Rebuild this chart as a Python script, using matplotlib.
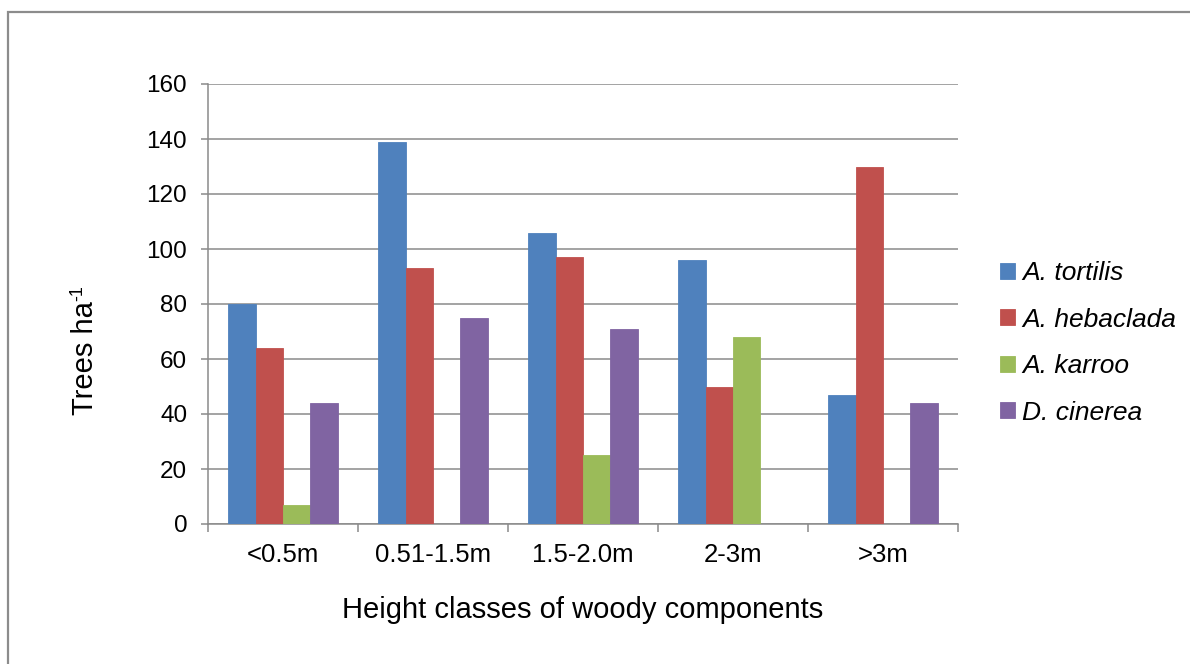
import matplotlib
matplotlib.use("Agg")
import matplotlib.pyplot as plt
import numpy as np
from matplotlib.patches import Rectangle
from matplotlib.ticker import FixedLocator

plt.rcParams["font.family"] = ["Liberation Sans", "DejaVu Sans"]

height_classes = ["<0.5m", "0.51-1.5m", "1.5-2.0m", "2-3m", ">3m"]
species = ["A. tortilis", "A. hebaclada", "A. karroo", "D. cinerea"]
a_tortilis = [80, 139, 106, 96, 47]
a_hebaclada = [64, 93, 97, 50, 130]
a_karroo = [7, 0, 25, 68, 0]
d_cinerea = [44, 75, 71, 0, 44]
colors = ["#4F81BD", "#C0504D", "#9BBB59", "#8064A2"]

W, H = 1190, 664
fig = plt.figure(figsize=(W / 100, H / 100), dpi=100)
fig.patch.set_facecolor("white")

# outer chart frame (right and bottom edges fall outside the canvas)
fig.add_artist(Rectangle((7.5 / W, -0.2), 1.2, 1 - 11.7 / H + 0.2,
                         transform=fig.transFigure, fill=False,
                         edgecolor="#8c8c8c", linewidth=1.6))

ax = fig.add_axes([208 / W, 1 - 524 / H, 750 / W, 440 / H])

x = np.arange(len(height_classes))
bw = 0.182
series = [a_tortilis, a_hebaclada, a_karroo, d_cinerea]
for k, (vals, name, c) in enumerate(zip(series, species, colors)):
    ax.bar(x + (k - 1.5) * bw, vals, width=bw, color=c, label=name,
           edgecolor=c, linewidth=0.6, zorder=3)

ax.set_xlim(-0.5, len(height_classes) - 0.5)
ax.set_ylim(0, 160)
ax.set_yticks(np.arange(0, 161, 20))
ax.yaxis.grid(True, color="#8a8a8a", linewidth=1.1, zorder=0)
ax.set_axisbelow(True)

ax.set_xticks(x)
ax.set_xticklabels(height_classes, fontsize=18.5)
ax.xaxis.set_minor_locator(FixedLocator(np.arange(-0.5, len(height_classes), 1.0)))
ax.tick_params(axis="x", which="major", length=0, pad=14)
ax.tick_params(axis="x", which="minor", length=6, width=1.1, color="#8a8a8a", direction="out")
ax.tick_params(axis="y", length=5, width=1.1, color="#8a8a8a", direction="out",
               labelsize=17.5, pad=10)

for side in ("top", "right"):
    ax.spines[side].set_visible(False)
for side in ("left", "bottom"):
    ax.spines[side].set_color("#8a8a8a")
    ax.spines[side].set_linewidth(1.1)

# y label with a small raised "-1"
ylab = fig.text(85 / W, 1 - 358 / H, "Trees ha", rotation=90,
                ha="center", va="center", fontsize=21)
ax.annotate("-1", xy=(0, 1), xycoords=ylab, xytext=(-1, 0),
            textcoords="offset points", rotation=90, ha="left", va="bottom",
            fontsize=13, annotation_clip=False)

fig.text(583 / W, 1 - 610 / H, "Height classes of woody components",
         ha="center", va="center", fontsize=21)

fig.legend(loc="center left", bbox_to_anchor=(1000 / W, 1 - 343 / H),
           frameon=False, borderpad=0, borderaxespad=0,
           handlelength=0.55, handleheight=0.55, handletextpad=0.3,
           labelspacing=0.85, prop={"size": 19, "style": "italic"})

fig.savefig("out.png", dpi=100, facecolor="white")
